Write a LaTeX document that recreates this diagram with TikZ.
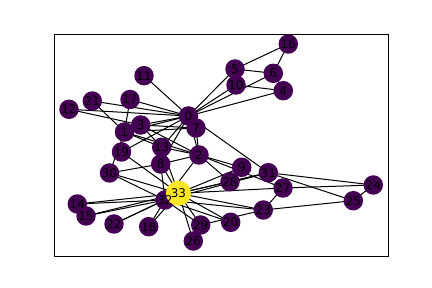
\documentclass[tikz,border=0pt]{standalone}
\usepackage{fontspec}
\setmainfont{DejaVu Sans}
\usepackage{tikz}
\definecolor{vpurple}{HTML}{440154}
\definecolor{vyellow}{HTML}{FDE725}

\begin{document}
\begin{tikzpicture}[
        x=1pt, y=-1pt,
        % Members: dark viridis fill, no outline
        member/.style = {circle, fill=vpurple, inner sep=0pt, minimum size=19.5pt},
        % Highlighted member: larger, yellow
        leader/.style = {circle, fill=vyellow, inner sep=0pt, minimum size=25.2pt},
        % Labels drawn on top of every disc
        lbl/.style = {font=\fontsize{12}{12}\selectfont, text=black, inner sep=0pt},
        % Ties between members
        tie/.style = {draw=black, line width=1pt}
    ]

    % --- Canvas and axes frame ---
    \useasboundingbox (0,0) rectangle (432,288);
    \draw[line width=0.8pt] (54,34.6) rectangle (388.8,256.3);

    % --- Member positions ---
    \foreach \n/\px/\py in {0/188.5/116, 1/124.5/132, 2/199/155, 3/140.7/125,
            4/283.3/90.7, 5/235/69, 6/273.3/73.3, 7/196/128, 8/160.7/164,
            9/241.7/167.3, 10/236/85, 11/144/75.7, 12/69/109.3, 13/161.7/147.3,
            14/77.3/204, 15/86/216, 16/288.3/44, 17/130/99.5, 18/148.7/226.7,
            19/121.5/152, 20/230.7/222.3, 21/92.3/101, 22/114/224, 23/263.3/210,
            24/373.3/185, 25/353.3/200.7, 26/193.3/241, 27/283/188, 28/230/181.7,
            29/200.7/225, 30/109.5/173, 31/268.3/172.7, 32/165/200}
        \coordinate (c\n) at (\px,\py);
    \coordinate (c33) at (178.5,193.3);

    % --- Ties (drawn first, under the discs) ---
    \foreach \a/\b in {0/1, 0/2, 0/3, 0/4, 0/5, 0/6, 0/7, 0/8, 0/10, 0/11, 0/12,
            0/13, 0/17, 0/19, 0/21, 0/31,
            1/2, 1/3, 1/7, 1/13, 1/17, 1/19, 1/21, 1/30,
            2/3, 2/7, 2/8, 2/9, 2/13, 2/27, 2/28, 2/32,
            3/7, 3/12, 3/13, 4/6, 4/10, 5/6, 5/10, 5/16, 6/16,
            8/30, 8/32, 8/33, 9/33, 13/33, 14/32, 14/33, 15/32, 15/33,
            18/32, 18/33, 19/33, 20/32, 20/33, 22/32, 22/33,
            23/25, 23/27, 23/29, 23/32, 23/33, 24/25, 24/27, 24/31, 25/31,
            26/29, 26/33, 27/33, 28/31, 28/33, 29/32, 29/33,
            30/32, 30/33, 31/32, 31/33, 32/33}
        \draw[tie] (c\a) -- (c\b);

    % --- Discs ---
    \foreach \n in {0,...,32}
        \node[member] (m\n) at (c\n) {};
    \node[leader] (m33) at (c33) {};

    % --- Labels on top ---
    \foreach \n in {0,...,33}
        \node[lbl] at (m\n) {\n};

\end{tikzpicture}
\end{document}
